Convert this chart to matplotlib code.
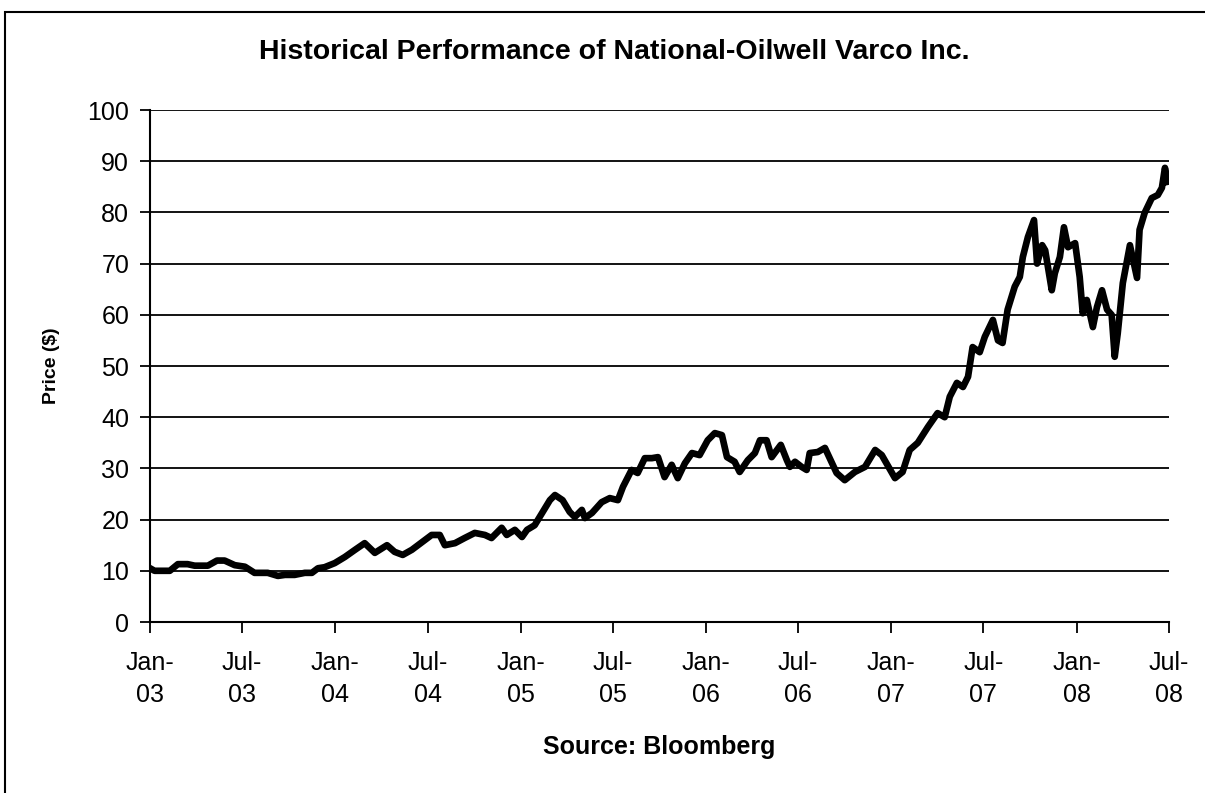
import numpy as np
import pandas as pd
import matplotlib
matplotlib.use("Agg")
import matplotlib.pyplot as plt
from matplotlib.patches import Rectangle

plt.rcParams["font.family"] = ["Liberation Sans", "DejaVu Sans"]

# price, roughly every 2 weeks
dates = [
    "2003-01-01", "2003-01-10", "2003-02-09", "2003-02-25", "2003-03-16", "2003-03-30",
    "2003-04-25", "2003-05-13", "2003-05-28", "2003-06-17", "2003-07-07", "2003-07-26",
    "2003-08-21", "2003-09-10", "2003-09-24", "2003-10-13", "2003-11-02", "2003-11-16",
    "2003-11-28", "2003-12-11", "2003-12-31",
    "2004-01-20", "2004-02-09", "2004-02-28", "2004-03-19", "2004-04-12", "2004-04-27",
    "2004-05-13", "2004-05-31", "2004-06-20", "2004-07-09", "2004-07-25", "2004-08-04",
    "2004-08-24", "2004-09-12", "2004-10-02", "2004-10-22", "2004-11-04", "2004-11-24",
    "2004-12-04", "2004-12-20",
    "2005-01-03", "2005-01-13", "2005-01-28", "2005-02-13", "2005-02-27", "2005-03-09",
    "2005-03-24", "2005-04-07", "2005-04-17", "2005-05-01", "2005-05-07", "2005-05-21",
    "2005-06-09", "2005-06-25", "2005-07-11", "2005-07-21", "2005-08-07", "2005-08-19",
    "2005-09-02", "2005-09-16", "2005-09-28", "2005-10-11", "2005-10-25", "2005-11-06",
    "2005-11-20", "2005-12-04", "2005-12-19",
    "2006-01-04", "2006-01-18", "2006-02-01", "2006-02-11", "2006-02-26", "2006-03-08",
    "2006-03-24", "2006-04-07", "2006-04-17", "2006-04-30", "2006-05-10", "2006-05-28",
    "2006-06-09", "2006-06-15", "2006-06-25", "2006-07-08", "2006-07-18", "2006-07-24",
    "2006-08-09", "2006-08-23", "2006-09-15", "2006-10-01", "2006-10-21", "2006-11-10",
    "2006-11-30", "2006-12-13",
    "2007-01-08", "2007-01-23", "2007-02-06", "2007-02-22", "2007-03-14", "2007-04-02",
    "2007-04-16", "2007-04-26", "2007-05-10", "2007-05-22", "2007-06-01", "2007-06-10",
    "2007-06-24", "2007-07-04", "2007-07-20", "2007-07-30", "2007-08-08", "2007-08-18",
    "2007-09-01", "2007-09-11", "2007-09-17", "2007-09-27", "2007-10-09", "2007-10-15",
    "2007-10-25", "2007-10-31", "2007-11-13", "2007-11-19", "2007-11-29", "2007-12-07",
    "2007-12-15", "2007-12-29",
    "2008-01-07", "2008-01-13", "2008-01-21", "2008-02-02", "2008-02-10", "2008-02-20",
    "2008-03-01", "2008-03-10", "2008-03-16", "2008-03-22", "2008-04-01", "2008-04-15",
    "2008-04-29", "2008-05-04", "2008-05-14", "2008-05-28", "2008-06-09", "2008-06-17",
    "2008-06-23", "2008-06-29",
]
prices = [
    10.5, 10.0, 10.0, 11.3, 11.3, 11.0,
    11.0, 12.0, 12.0, 11.1, 10.8, 9.6,
    9.6, 9.0, 9.2, 9.2, 9.6, 9.6,
    10.5, 10.7, 11.5,
    12.7, 14.1, 15.4, 13.5, 15.0, 13.7,
    13.1, 14.1, 15.6, 17.0, 17.0, 15.0,
    15.4, 16.4, 17.4, 17.0, 16.4, 18.4,
    17.0, 18.0,
    16.6, 18.0, 18.9, 21.5, 23.8, 24.8,
    23.8, 21.5, 20.5, 21.9, 20.3, 21.3,
    23.4, 24.2, 23.8, 26.4, 29.7, 29.1,
    32.0, 32.0, 32.2, 28.3, 30.7, 28.1,
    31.0, 33.0, 32.6,
    35.5, 36.9, 36.5, 32.2, 31.3, 29.3,
    31.6, 33.0, 35.5, 35.5, 32.2, 34.6,
    31.6, 30.3, 31.3, 30.3, 29.7, 33.0,
    33.2, 34.0, 29.1, 27.7, 29.3, 30.3,
    33.6, 32.6,
    28.1, 29.3, 33.6, 35.0, 38.1, 40.8,
    40.0, 44.0, 46.7, 45.9, 47.9, 53.7,
    52.7, 55.7, 59.0, 55.0, 54.5, 61.0,
    65.5, 67.4, 71.3, 75.2, 78.5, 70.0,
    73.6, 72.6, 64.8, 68.1, 71.3, 77.1,
    73.2, 74.0,
    67.4, 60.3, 62.9, 57.6, 61.5, 64.8,
    61.0, 60.0, 51.8, 56.4, 66.2, 73.6,
    67.2, 76.6, 79.9, 82.8, 83.4, 84.8,
    88.7, 86.0,
]

tick_dates = ["2003-01-01", "2003-07-01", "2004-01-01", "2004-07-01", "2005-01-01",
              "2005-07-01", "2006-01-01", "2006-07-01", "2007-01-01", "2007-07-01",
              "2008-01-01", "2008-07-01"]
tick_labels = ["Jan-\n03", "Jul-\n03", "Jan-\n04", "Jul-\n04", "Jan-\n05", "Jul-\n05",
               "Jan-\n06", "Jul-\n06", "Jan-\n07", "Jul-\n07", "Jan-\n08", "Jul-\n08"]
y_ticks = list(range(0, 101, 10))

x = pd.to_datetime(dates)
xt = pd.to_datetime(tick_dates)

fig = plt.figure(figsize=(12.05, 7.93), dpi=100)
ax = fig.add_axes([150 / 1205, 171 / 793, 1019 / 1205, 512 / 793])

for v in y_ticks[1:]:
    ax.axhline(v, color="black", linewidth=1.3, zorder=1)

ax.plot(x, prices, color="black", linewidth=4.8, solid_joinstyle="round", zorder=3)

ax.set_xlim(xt[0], xt[-1])
ax.set_ylim(0, 100)
ax.set_xticks(xt)
ax.set_xticklabels(tick_labels, fontsize=18, linespacing=1.4)
ax.set_yticks(y_ticks)
ax.set_yticklabels([str(v) for v in y_ticks], fontsize=18)
ax.tick_params(axis="x", direction="out", length=8, width=1.3, pad=13)
ax.tick_params(axis="y", direction="out", length=7, width=1.3, pad=8)

for s in ["top", "right"]:
    ax.spines[s].set_visible(False)
for s in ["left", "bottom"]:
    ax.spines[s].set_linewidth(1.5)

ax.set_ylabel("Price ($)", fontsize=14, fontweight="bold", labelpad=20)
ax.set_xlabel("Source: Bloomberg", fontsize=18, fontweight="bold", labelpad=20)
fig.text(614 / 1205, 1 - 52 / 793, "Historical Performance of National-Oilwell Varco Inc.",
         ha="center", va="center", fontsize=20.5, fontweight="bold")

# outer frame of the original chart object
fig.patches.append(Rectangle((5 / 1205, -0.05), 1.2, 1 - 12 / 793 + 0.05,
                             transform=fig.transFigure, fill=False,
                             edgecolor="black", linewidth=1.5))

plt.savefig("out.png", dpi=100)
